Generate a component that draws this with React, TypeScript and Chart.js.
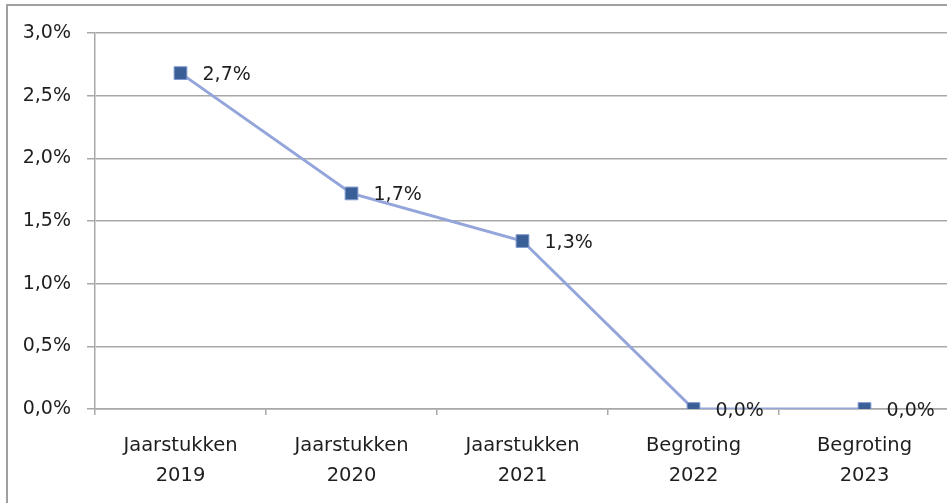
import React, { useEffect, useRef } from "react";
import { Chart, registerables } from "chart.js";

Chart.register(...registerables);

const categories: string[][] = [
  ["Jaarstukken", "2019"],
  ["Jaarstukken", "2020"],
  ["Jaarstukken", "2021"],
  ["Begroting", "2022"],
  ["Begroting", "2023"],
];
const values: number[] = [2.68, 1.72, 1.34, 0.0, 0.0];
const yMin = 0;
const yMax = 3;
const yStep = 0.5;

const fmt = (v: number) => `${v.toFixed(1).replace(".", ",")}%`;

const FONT = "'DejaVu Sans', sans-serif";
const TEXT = "#1e1e1e";
const GRID = "#a8a8a8";

const dataLabels = {
  id: "dataLabels",
  afterDatasetsDraw(chart: any) {
    const ctx = chart.ctx;
    const meta = chart.getDatasetMeta(0);
    ctx.save();
    ctx.font = `19px ${FONT}`;
    ctx.fillStyle = TEXT;
    ctx.textAlign = "left";
    ctx.textBaseline = "middle";
    meta.data.forEach((pt: any, i: number) => {
      ctx.fillText(fmt(values[i]), pt.x + 22, pt.y + 2);
    });
    ctx.restore();
  },
};

const frame = {
  id: "frame",
  beforeDraw(chart: any) {
    const ctx = chart.ctx;
    ctx.save();
    ctx.fillStyle = "#ffffff";
    ctx.fillRect(0, 0, chart.width, chart.height);
    ctx.fillStyle = "#a0a0a0";
    ctx.fillRect(6, 4, chart.width, 2);
    ctx.fillRect(6, 4, 2, chart.height);
    ctx.restore();
  },
};

export default function App() {
  const ref = useRef<HTMLCanvasElement>(null);
  useEffect(() => {
    document.body.style.margin = "0";
    document.body.style.overflow = "hidden";
    if (!ref.current) return;
    const chart = new Chart(ref.current, {
      type: "line",
      data: {
        labels: categories,
        datasets: [
          {
            data: values,
            borderColor: "#93a5db",
            borderWidth: 3,
            pointStyle: "rect",
            pointRadius: 9,
            pointBackgroundColor: "#3a5f96",
            pointBorderColor: "#7f99cf",
            pointBorderWidth: 1,
            tension: 0,
          },
        ],
      },
      options: {
        animation: false,
        responsive: false,
        devicePixelRatio: 1,
        layout: { padding: { top: 33, right: 9, left: 0, bottom: 0 } },
        plugins: { legend: { display: false }, tooltip: { enabled: false } },
        scales: {
          x: {
            offset: true,
            grid: {
              offset: true,
              drawOnChartArea: false,
              drawTicks: true,
              tickLength: 6,
              color: GRID,
              lineWidth: 1.5,
            },
            border: { color: GRID, width: 1.5 },
            ticks: {
              color: TEXT,
              font: { family: FONT, size: 19.5, lineHeight: 1.54 },
              padding: 16,
              maxRotation: 0,
              autoSkip: false,
            },
            afterFit(scale: any) {
              scale.height = 94;
            },
          },
          y: {
            min: yMin,
            max: yMax,
            grid: { color: GRID, lineWidth: 1.5, tickLength: 8 },
            border: { color: GRID, width: 1.5 },
            ticks: {
              stepSize: yStep,
              color: TEXT,
              font: { family: FONT, size: 19 },
              padding: 16,
              callback: (v: any) => fmt(Number(v)),
            },
            afterFit(scale: any) {
              scale.width = 95;
            },
          },
        },
      },
      plugins: [frame, dataLabels],
    });
    return () => chart.destroy();
  }, []);

  return (
    <div style={{ width: 947, height: 503, overflow: "hidden" }}>
      <canvas
        ref={ref}
        width={960}
        height={503}
        style={{ display: "block", width: 960, height: 503 }}
      />
    </div>
  );
}
